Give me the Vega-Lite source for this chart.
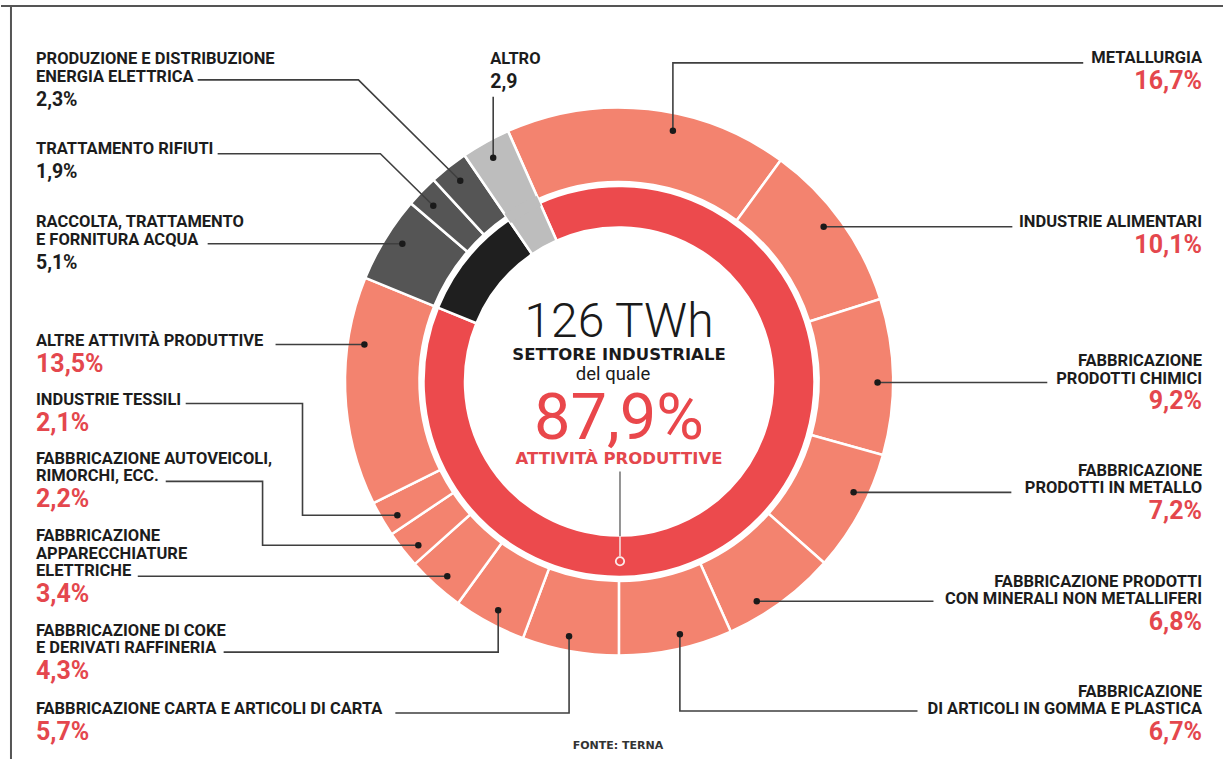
{
  "$schema": "https://vega.github.io/schema/vega-lite/v6.json",
  "width": 1224,
  "height": 760,
  "autosize": {"type": "fit", "contains": "padding"},
  "padding": 0,
  "background": "#ffffff",
  "config": {"view": {"stroke": null}, "font": "Roboto"},
  "datasets": {
    "sectors": [
      {"sector": "METALLURGIA", "share": 16.7, "group": "prod", "side": "right", "x": 1203, "y": 63},
      {"sector": "INDUSTRIE ALIMENTARI", "share": 10.1, "group": "prod", "side": "right", "x": 1203, "y": 227},
      {"sector": "FABBRICAZIONE\nPRODOTTI CHIMICI", "share": 9.2, "group": "prod", "side": "right", "x": 1203, "y": 384},
      {"sector": "FABBRICAZIONE\nPRODOTTI IN METALLO", "share": 7.2, "group": "prod", "side": "right", "x": 1203, "y": 494},
      {"sector": "FABBRICAZIONE PRODOTTI\u00a0\u00a0\nCON MINERALI NON METALLIFERI", "share": 6.8, "group": "prod", "side": "right", "x": 1203, "y": 605},
      {"sector": "FABBRICAZIONE\nDI ARTICOLI IN GOMMA E PLASTICA", "share": 6.7, "group": "prod", "side": "right", "x": 1203, "y": 715},
      {"sector": "FABBRICAZIONE CARTA E ARTICOLI DI CARTA", "share": 5.7, "group": "prod", "side": "left", "x": 35, "y": 715},
      {"sector": "FABBRICAZIONE DI COKE\nE DERIVATI RAFFINERIA", "share": 4.3, "group": "prod", "side": "left", "x": 35, "y": 654},
      {"sector": "FABBRICAZIONE\nAPPARECCHIATURE\nELETTRICHE", "share": 3.4, "group": "prod", "side": "left", "x": 35, "y": 577},
      {"sector": "FABBRICAZIONE AUTOVEICOLI,\nRIMORCHI, ECC.", "share": 2.2, "group": "prod", "side": "left", "x": 35, "y": 482},
      {"sector": "INDUSTRIE TESSILI", "share": 2.1, "group": "prod", "side": "left", "x": 35, "y": 406},
      {"sector": "ALTRE ATTIVITÀ PRODUTTIVE", "share": 13.5, "group": "prod", "side": "left", "x": 35, "y": 346},
      {"sector": "RACCOLTA, TRATTAMENTO\nE FORNITURA ACQUA", "share": 5.1, "group": "util", "side": "left", "x": 35, "y": 245},
      {"sector": "TRATTAMENTO RIFIUTI", "share": 1.9, "group": "util", "side": "left", "x": 35, "y": 154},
      {"sector": "PRODUZIONE E DISTRIBUZIONE\nENERGIA ELETTRICA", "share": 2.3, "group": "util", "side": "left", "x": 35, "y": 82},
      {"sector": "ALTRO", "share": 2.9, "group": "altro", "side": "left", "x": 490, "y": 64}
    ],
    "leaders": [
      {"leg": "met", "k": 0, "x": 1084, "y": 63}, {"leg": "met", "k": 1, "x": 673, "y": 63}, {"leg": "met", "k": 2, "x": 673, "y": 131, "tip": "dot"},
      {"leg": "ali", "k": 0, "x": 1013, "y": 227}, {"leg": "ali", "k": 1, "x": 824, "y": 227, "tip": "dot"},
      {"leg": "chi", "k": 0, "x": 1048, "y": 383}, {"leg": "chi", "k": 1, "x": 878, "y": 383, "tip": "dot"},
      {"leg": "mtl", "k": 0, "x": 1012, "y": 493}, {"leg": "mtl", "k": 1, "x": 854, "y": 493, "tip": "dot"},
      {"leg": "min", "k": 0, "x": 934, "y": 602}, {"leg": "min", "k": 1, "x": 757, "y": 602, "tip": "dot"},
      {"leg": "gom", "k": 0, "x": 918, "y": 712}, {"leg": "gom", "k": 1, "x": 680, "y": 712}, {"leg": "gom", "k": 2, "x": 680, "y": 635, "tip": "dot"},
      {"leg": "car", "k": 0, "x": 395, "y": 714}, {"leg": "car", "k": 1, "x": 569, "y": 714}, {"leg": "car", "k": 2, "x": 569, "y": 637, "tip": "dot"},
      {"leg": "cok", "k": 0, "x": 223, "y": 653}, {"leg": "cok", "k": 1, "x": 498, "y": 653}, {"leg": "cok", "k": 2, "x": 498, "y": 611, "tip": "dot"},
      {"leg": "app", "k": 0, "x": 137, "y": 577}, {"leg": "app", "k": 1, "x": 447, "y": 577, "tip": "dot"},
      {"leg": "aut", "k": 0, "x": 165, "y": 482}, {"leg": "aut", "k": 1, "x": 262, "y": 482}, {"leg": "aut", "k": 2, "x": 262, "y": 546}, {"leg": "aut", "k": 3, "x": 418, "y": 546, "tip": "dot"},
      {"leg": "tes", "k": 0, "x": 185, "y": 404}, {"leg": "tes", "k": 1, "x": 302, "y": 404}, {"leg": "tes", "k": 2, "x": 302, "y": 516}, {"leg": "tes", "k": 3, "x": 397, "y": 516, "tip": "dot"},
      {"leg": "alt", "k": 0, "x": 275, "y": 345}, {"leg": "alt", "k": 1, "x": 364, "y": 345, "tip": "dot"},
      {"leg": "acq", "k": 0, "x": 207, "y": 244}, {"leg": "acq", "k": 1, "x": 402, "y": 244, "tip": "dot"},
      {"leg": "rif", "k": 0, "x": 217, "y": 154}, {"leg": "rif", "k": 1, "x": 380, "y": 154}, {"leg": "rif", "k": 2, "x": 433, "y": 206, "tip": "dot"},
      {"leg": "ene", "k": 0, "x": 197, "y": 80}, {"leg": "ene", "k": 1, "x": 358, "y": 80}, {"leg": "ene", "k": 2, "x": 460, "y": 181, "tip": "dot"},
      {"leg": "oth", "k": 0, "x": 493, "y": 97}, {"leg": "oth", "k": 1, "x": 493, "y": 158, "tip": "dot"},
      {"leg": "ptr", "k": 0, "x": 620, "y": 472, "tone": "soft"}, {"leg": "ptr", "k": 1, "x": 620, "y": 537, "tone": "soft"},
      {"leg": "ptr2", "k": 0, "x": 620, "y": 537, "tone": "pale"}, {"leg": "ptr2", "k": 1, "x": 620, "y": 557, "tone": "pale"},
      {"leg": "ring", "k": 0, "x": 620, "y": 562, "tip": "ring"}
    ],
    "notes": [
      {"note": "126 TWh", "role": "total", "x": 619, "y": 337},
      {"note": "SETTORE INDUSTRIALE", "role": "heading", "x": 619, "y": 360},
      {"note": "del quale", "role": "link", "x": 613, "y": 381},
      {"note": "ATTIVITÀ PRODUTTIVE", "role": "subhead", "x": 619, "y": 465},
      {"note": "FONTE: TERNA", "role": "source", "x": 618, "y": 750}
    ],
    "frame": [
      {"x": 0, "y": 6, "x2": 1224, "y2": 6},
      {"x": 10, "y": 6, "x2": 10, "y2": 760}
    ]
  },
  "encoding": {
    "x": {"field": "x", "type": "quantitative", "axis": null, "scale": {"domain": [0, 1224], "nice": false, "zero": false}},
    "y": {"field": "y", "type": "quantitative", "axis": null, "scale": {"domain": [0, 760], "reverse": true, "nice": false, "zero": false}}
  },
  "layer": [
    {
      "data": {"name": "frame"},
      "mark": {"type": "rule", "color": "#555555", "strokeWidth": 2},
      "encoding": {
        "x2": {"field": "x2"},
        "y2": {"field": "y2"}
      }
    },
    {
      "data": {"name": "sectors"},
      "transform": [{"window": [{"op": "row_number", "as": "pos"}]}],
      "mark": {"type": "arc", "innerRadius": 199.5, "outerRadius": 274, "stroke": "#ffffff", "strokeWidth": 2.5},
      "encoding": {
        "x": {"datum": 619},
        "y": {"datum": 382},
        "theta": {"field": "share", "type": "quantitative", "stack": true, "scale": {"range": [-0.417, 5.866]}},
        "order": {"field": "pos", "type": "quantitative"},
        "color": {"field": "group", "type": "nominal", "legend": null,
          "scale": {"domain": ["prod", "util", "altro"], "range": ["#F3836F", "#555555", "#BDBDBD"]}}
      }
    },
    {
      "data": {"name": "sectors"},
      "transform": [
        {"window": [{"op": "row_number", "as": "pos"}]},
        {"joinaggregate": [{"op": "sum", "field": "share", "as": "groupShare"}], "groupby": ["group"]},
        {"window": [{"op": "row_number", "as": "inGroup"}], "groupby": ["group"], "sort": [{"field": "pos", "order": "ascending"}]},
        {"filter": "datum.inGroup === 1"}
      ],
      "mark": {"type": "arc", "innerRadius": 154, "outerRadius": 195.5, "stroke": "#ffffff", "strokeWidth": 2.5},
      "encoding": {
        "x": {"datum": 619},
        "y": {"datum": 382},
        "theta": {"field": "groupShare", "type": "quantitative", "stack": true, "scale": {"range": [-0.417, 5.866]}},
        "order": {"field": "pos", "type": "quantitative"},
        "color": {"field": "group", "type": "nominal", "legend": null,
          "scale": {"domain": ["prod", "util", "altro"], "range": ["#EC4A4D", "#1F1F1F", "#BDBDBD"]}}
      }
    },
    {
      "data": {"name": "sectors"},
      "transform": [
        {"window": [{"op": "row_number", "as": "pos"}]},
        {"joinaggregate": [{"op": "sum", "field": "share", "as": "groupShare"}], "groupby": ["group"]},
        {"window": [{"op": "row_number", "as": "inGroup"}], "groupby": ["group"], "sort": [{"field": "pos", "order": "ascending"}]},
        {"filter": "datum.inGroup === 1"}
      ],
      "mark": {"type": "arc", "innerRadius": 192, "outerRadius": 203, "strokeWidth": 0},
      "encoding": {
        "x": {"datum": 619},
        "y": {"datum": 382},
        "theta": {"field": "groupShare", "type": "quantitative", "stack": true, "scale": {"range": [-0.417, 5.866]}},
        "order": {"field": "pos", "type": "quantitative"},
        "color": {"field": "group", "type": "nominal", "legend": null,
          "scale": {"domain": ["prod", "util", "altro"], "range": ["rgba(0,0,0,0)", "rgba(0,0,0,0)", "#BDBDBD"]}}
      }
    },
    {
      "data": {"name": "leaders"},
      "transform": [{"filter": "datum.tip !== 'ring'"}],
      "mark": {"type": "line", "strokeWidth": 1.6, "interpolate": "linear"},
      "encoding": {
        "detail": {"field": "leg"},
        "order": {"field": "k", "type": "quantitative"},
        "color": {"condition": [{"test": "datum.tone === 'soft'", "value": "#7a7a7a"}, {"test": "datum.tone === 'pale'", "value": "#f6dcdc"}], "value": "#3f3f3f"}
      }
    },
    {
      "data": {"name": "leaders"},
      "transform": [{"filter": "datum.tip === 'dot'"}],
      "mark": {"type": "point", "filled": true, "size": 42, "color": "#1a1a1a", "opacity": 1}
    },
    {
      "data": {"name": "leaders"},
      "transform": [{"filter": "datum.tip === 'ring'"}],
      "mark": {"type": "point", "filled": false, "size": 70, "color": "#fbeaea", "strokeWidth": 1.8, "opacity": 1}
    },
    {
      "data": {"name": "sectors"},
      "transform": [
        {"filter": "datum.side === 'left'"},
        {"calculate": "datum.y - 17.5 * (length(split(datum.sector, '\\n')) - 1)", "as": "firstLine"}
      ],
      "mark": {"type": "text", "align": "left", "baseline": "alphabetic", "font": "Roboto", "fontWeight": "bold", "fontSize": 16.5, "lineBreak": "\n", "lineHeight": 17.5, "color": "#1c1c1c"},
      "encoding": {
        "y": {"field": "firstLine", "type": "quantitative"},
        "text": {"field": "sector"}
      }
    },
    {
      "data": {"name": "sectors"},
      "transform": [
        {"filter": "datum.side === 'right'"},
        {"calculate": "datum.y - 17.5 * (length(split(datum.sector, '\\n')) - 1)", "as": "firstLine"}
      ],
      "mark": {"type": "text", "align": "right", "baseline": "alphabetic", "font": "Roboto", "fontWeight": "bold", "fontSize": 16.5, "lineBreak": "\n", "lineHeight": 17.5, "color": "#1c1c1c"},
      "encoding": {
        "y": {"field": "firstLine", "type": "quantitative"},
        "text": {"field": "sector"}
      }
    },
    {
      "data": {"name": "sectors"},
      "transform": [
        {"filter": "datum.side === 'left' && datum.group === 'prod'"},
        {"calculate": "replace(format(datum.share, '.1f'), '.', ',') + '%'", "as": "pct"}
      ],
      "mark": {"type": "text", "align": "left", "baseline": "alphabetic", "dy": 26, "font": "Roboto", "fontWeight": "bold", "fontSize": 25, "color": "#E4474D"},
      "encoding": {"text": {"field": "pct"}}
    },
    {
      "data": {"name": "sectors"},
      "transform": [
        {"filter": "datum.side === 'left' && datum.group !== 'prod'"},
        {"calculate": "replace(format(datum.share, '.1f'), '.', ',') + (datum.group === 'altro' ? '' : '%')", "as": "pct"}
      ],
      "mark": {"type": "text", "align": "left", "baseline": "alphabetic", "dy": 24, "font": "Roboto", "fontWeight": "bold", "fontSize": 19.5, "color": "#1c1c1c"},
      "encoding": {"text": {"field": "pct"}}
    },
    {
      "data": {"name": "sectors"},
      "transform": [
        {"filter": "datum.side === 'right'"},
        {"calculate": "replace(format(datum.share, '.1f'), '.', ',') + '%'", "as": "pct"}
      ],
      "mark": {"type": "text", "align": "right", "baseline": "alphabetic", "dy": 26, "font": "Roboto", "fontWeight": "bold", "fontSize": 25, "color": "#E4474D"},
      "encoding": {"text": {"field": "pct"}}
    },
    {
      "data": {"name": "notes"},
      "transform": [{"filter": "datum.role === 'total'"}],
      "mark": {"type": "text", "align": "center", "baseline": "alphabetic", "font": "Roboto", "fontWeight": 300, "fontSize": 48, "color": "#1a1a1a"},
      "encoding": {"text": {"field": "note"}}
    },
    {
      "data": {"name": "notes"},
      "transform": [{"filter": "datum.role === 'heading' || datum.role === 'subhead'"}],
      "mark": {"type": "text", "align": "center", "baseline": "alphabetic", "font": "DejaVu Sans", "fontWeight": "bold", "fontSize": 16.5},
      "encoding": {
        "text": {"field": "note"},
        "color": {"condition": {"test": "datum.role === 'subhead'", "value": "#E4474D"}, "value": "#1a1a1a"}
      }
    },
    {
      "data": {"name": "notes"},
      "transform": [{"filter": "datum.role === 'link'"}],
      "mark": {"type": "text", "align": "center", "baseline": "alphabetic", "font": "Roboto", "fontWeight": 400, "fontSize": 18.5, "color": "#1a1a1a"},
      "encoding": {"text": {"field": "note"}}
    },
    {
      "data": {"name": "notes"},
      "transform": [{"filter": "datum.role === 'source'"}],
      "mark": {"type": "text", "align": "center", "baseline": "alphabetic", "font": "DejaVu Sans", "fontWeight": "bold", "fontSize": 11, "color": "#333333"},
      "encoding": {"text": {"field": "note"}}
    },
    {
      "data": {"name": "sectors"},
      "transform": [
        {"filter": "datum.group === 'prod'"},
        {"joinaggregate": [{"op": "sum", "field": "share", "as": "prodShare"}]},
        {"window": [{"op": "row_number", "as": "n"}]},
        {"filter": "datum.n === 1"},
        {"calculate": "replace(format(datum.prodShare, '.1f'), '.', ',') + '%'", "as": "pct"}
      ],
      "mark": {"type": "text", "align": "center", "baseline": "alphabetic", "font": "Roboto", "fontWeight": 400, "fontSize": 65, "color": "#E9474B"},
      "encoding": {
        "x": {"datum": 619},
        "y": {"datum": 440},
        "text": {"field": "pct"}
      }
    }
  ],
  "resolve": {"scale": {"theta": "independent", "color": "independent", "size": "independent"}}
}
